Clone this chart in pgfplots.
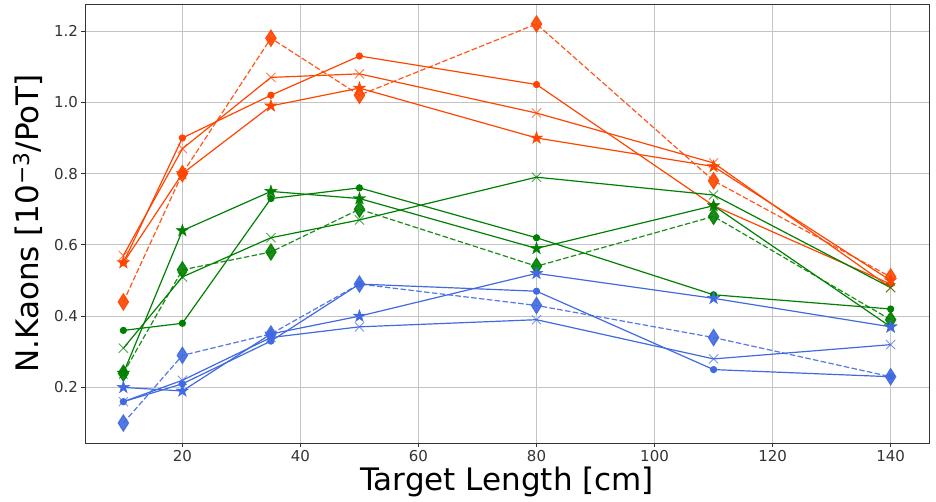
\documentclass[border=0pt]{standalone}
\usepackage{fontspec}
\setmainfont{DejaVu Sans}
\usepackage{pgfplots}
\pgfplotsset{compat=1.18}
\usepackage{pgfplotstable}

\definecolor{cora}{HTML}{FF4500}
\definecolor{cgrn}{HTML}{008000}
\definecolor{cblu}{HTML}{4169E1}
\definecolor{cgrid}{HTML}{C4C4C4}

% filled five-pointed star, like matplotlib '*'
\pgfdeclareplotmark{fstar}{%
  \pgfpathmoveto{\pgfpointpolar{90}{\pgfplotmarksize}}%
  \pgfpathlineto{\pgfpointpolar{126}{0.382\pgfplotmarksize}}%
  \pgfpathlineto{\pgfpointpolar{162}{\pgfplotmarksize}}%
  \pgfpathlineto{\pgfpointpolar{198}{0.382\pgfplotmarksize}}%
  \pgfpathlineto{\pgfpointpolar{234}{\pgfplotmarksize}}%
  \pgfpathlineto{\pgfpointpolar{270}{0.382\pgfplotmarksize}}%
  \pgfpathlineto{\pgfpointpolar{306}{\pgfplotmarksize}}%
  \pgfpathlineto{\pgfpointpolar{342}{0.382\pgfplotmarksize}}%
  \pgfpathlineto{\pgfpointpolar{18}{\pgfplotmarksize}}%
  \pgfpathlineto{\pgfpointpolar{54}{0.382\pgfplotmarksize}}%
  \pgfpathclose
  \pgfusepathqfillstroke}

\pgfplotstableread{
x   oc   ox   os   od   gc   gx   gs   gd   bc   bx   bs   bd
10  0.55 0.57 0.55 0.44 0.36 0.31 0.24 0.24 0.16 0.16 0.20 0.10
20  0.90 0.87 0.80 0.80 0.38 0.51 0.64 0.53 0.21 0.22 0.19 0.29
35  1.02 1.07 0.99 1.18 0.73 0.62 0.75 0.58 0.33 0.34 0.35 0.35
50  1.13 1.08 1.04 1.02 0.76 0.67 0.73 0.70 0.49 0.37 0.40 0.49
80  1.05 0.97 0.90 1.22 0.62 0.79 0.59 0.54 0.47 0.39 0.52 0.43
110 0.71 0.83 0.82 0.78 0.46 0.74 0.71 0.68 0.25 0.28 0.45 0.34
140 0.49 0.48 0.50 0.51 0.42 0.48 0.37 0.39 0.23 0.32 0.37 0.23
}\kaons

\pgfplotsset{
  circ/.style={solid, line width=1.2pt, mark=*, mark size=3pt, mark options={solid}},
  cross/.style={solid, line width=1.2pt, mark=x, mark size=6.5pt, mark options={solid, line width=0.9pt, opacity=0.7}},
  star/.style={solid, line width=1.2pt, mark=fstar, mark size=6.5pt, mark options={solid, line width=0.4pt}},
  diam/.style={line width=1.2pt, dash pattern=on 5.5pt off 2.4pt, opacity=0.9, mark=diamond*, mark size=8pt, mark options={solid, xscale=0.85}},
}

\begin{document}
\begin{tikzpicture}
\begin{axis}[
  width=844pt, height=439pt, scale only axis,
  xmin=3.5, xmax=146.5, ymin=0.044, ymax=1.276,
  xtick={20,40,...,140},
  ytick={0.2,0.4,...,1.2},
  yticklabel style={/pgf/number format/.cd, fixed, fixed zerofill, precision=1},
  /pgf/number format/assume math mode=true,
  tick label style={font=\fontsize{15}{18}\selectfont, text=black!80},
  tick align=outside, tickwidth=3.5pt,
  xtick pos=bottom, ytick pos=left,
  major tick style={black!80, line width=0.8pt},
  axis line style={black!80, line width=0.8pt},
  grid=major,
  major grid style={cgrid, line width=1pt},
  xlabel={Target Length [cm]},
  ylabel={N.Kaons [10\textsuperscript{−3}/PoT]},
  label style={font=\fontsize{31}{36}\selectfont},
  ylabel shift=5pt,
  xlabel shift=-1pt,
]
  \addplot[cora, circ]  table[y=oc] {\kaons};
  \addplot[cora, cross] table[y=ox] {\kaons};
  \addplot[cora, star]  table[y=os] {\kaons};
  \addplot[cora, diam]  table[y=od] {\kaons};
  \addplot[cgrn, circ]  table[y=gc] {\kaons};
  \addplot[cgrn, cross] table[y=gx] {\kaons};
  \addplot[cgrn, star]  table[y=gs] {\kaons};
  \addplot[cgrn, diam]  table[y=gd] {\kaons};
  \addplot[cblu, circ]  table[y=bc] {\kaons};
  \addplot[cblu, cross] table[y=bx] {\kaons};
  \addplot[cblu, star]  table[y=bs] {\kaons};
  \addplot[cblu, diam]  table[y=bd] {\kaons};
\end{axis}
\pgfresetboundingbox
\path[use as bounding box] ([xshift=-85pt,yshift=-58pt]current axis.south west) rectangle ([xshift=7pt,yshift=4pt]current axis.north east);
\end{tikzpicture}
\end{document}
